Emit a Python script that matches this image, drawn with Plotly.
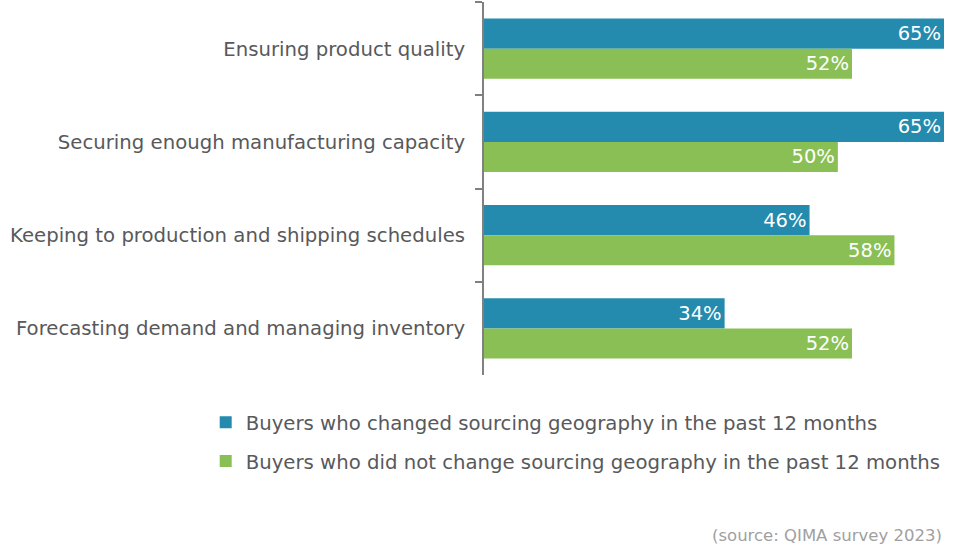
import plotly.graph_objects as go

categories = [
    "Ensuring product quality",
    "Securing enough manufacturing capacity",
    "Keeping to production and shipping schedules",
    "Forecasting demand and managing inventory",
]
changed = [65, 65, 46, 34]
not_changed = [52, 50, 58, 52]
series_names = [
    "Buyers who changed sourcing geography in the past 12 months",
    "Buyers who did not change sourcing geography in the past 12 months",
]
source_text = "(source: QIMA survey 2023)"

FONT = "DejaVu Sans"
TXT = "#58595b"
FS = 19.7

fig = go.Figure()
for vals, name, color, grp in [
    (changed, series_names[0], "#248bae", "a"),
    (not_changed, series_names[1], "#8abf55", "b"),
]:
    fig.add_trace(go.Bar(
        y=categories, x=vals, name=name, orientation="h",
        marker=dict(color=color, line=dict(width=0)),
        texttemplate="%{x}%", textposition="inside", insidetextanchor="end",
        textfont=dict(color="white", size=19.5, family=FONT),
        legendgroup=grp,
    ))

fig.update_layout(
    width=956, height=544,
    margin=dict(l=484, r=12, t=2, b=169),
    paper_bgcolor="white", plot_bgcolor="white",
    barmode="group", bargap=0.355, bargroupgap=0,
    font=dict(family=FONT, color=TXT, size=FS),
    showlegend=True,
    legend=dict(
        x=-0.605, y=-0.075, xanchor="left", yanchor="top",
        traceorder="grouped", tracegroupgap=10,
        font=dict(size=FS, color=TXT, family=FONT),
        itemwidth=30,
    ),
    annotations=[dict(
        text=source_text, xref="paper", yref="paper", x=1, y=-0.43,
        xanchor="right", yanchor="middle", showarrow=False,
        font=dict(size=16.5, color="#a0a0a0", family=FONT),
    )],
)
fig.update_xaxes(range=[0, 65], visible=False, fixedrange=True)
fig.update_yaxes(
    autorange="reversed", tickson="boundaries", ticks="outside", ticklen=7,
    tickwidth=2, tickcolor="#808080", showline=True, linecolor="#808080",
    linewidth=2, showgrid=False, ticklabelstandoff=13,
    tickfont=dict(size=FS, color=TXT, family=FONT),
)
fig.write_html("out.html")
